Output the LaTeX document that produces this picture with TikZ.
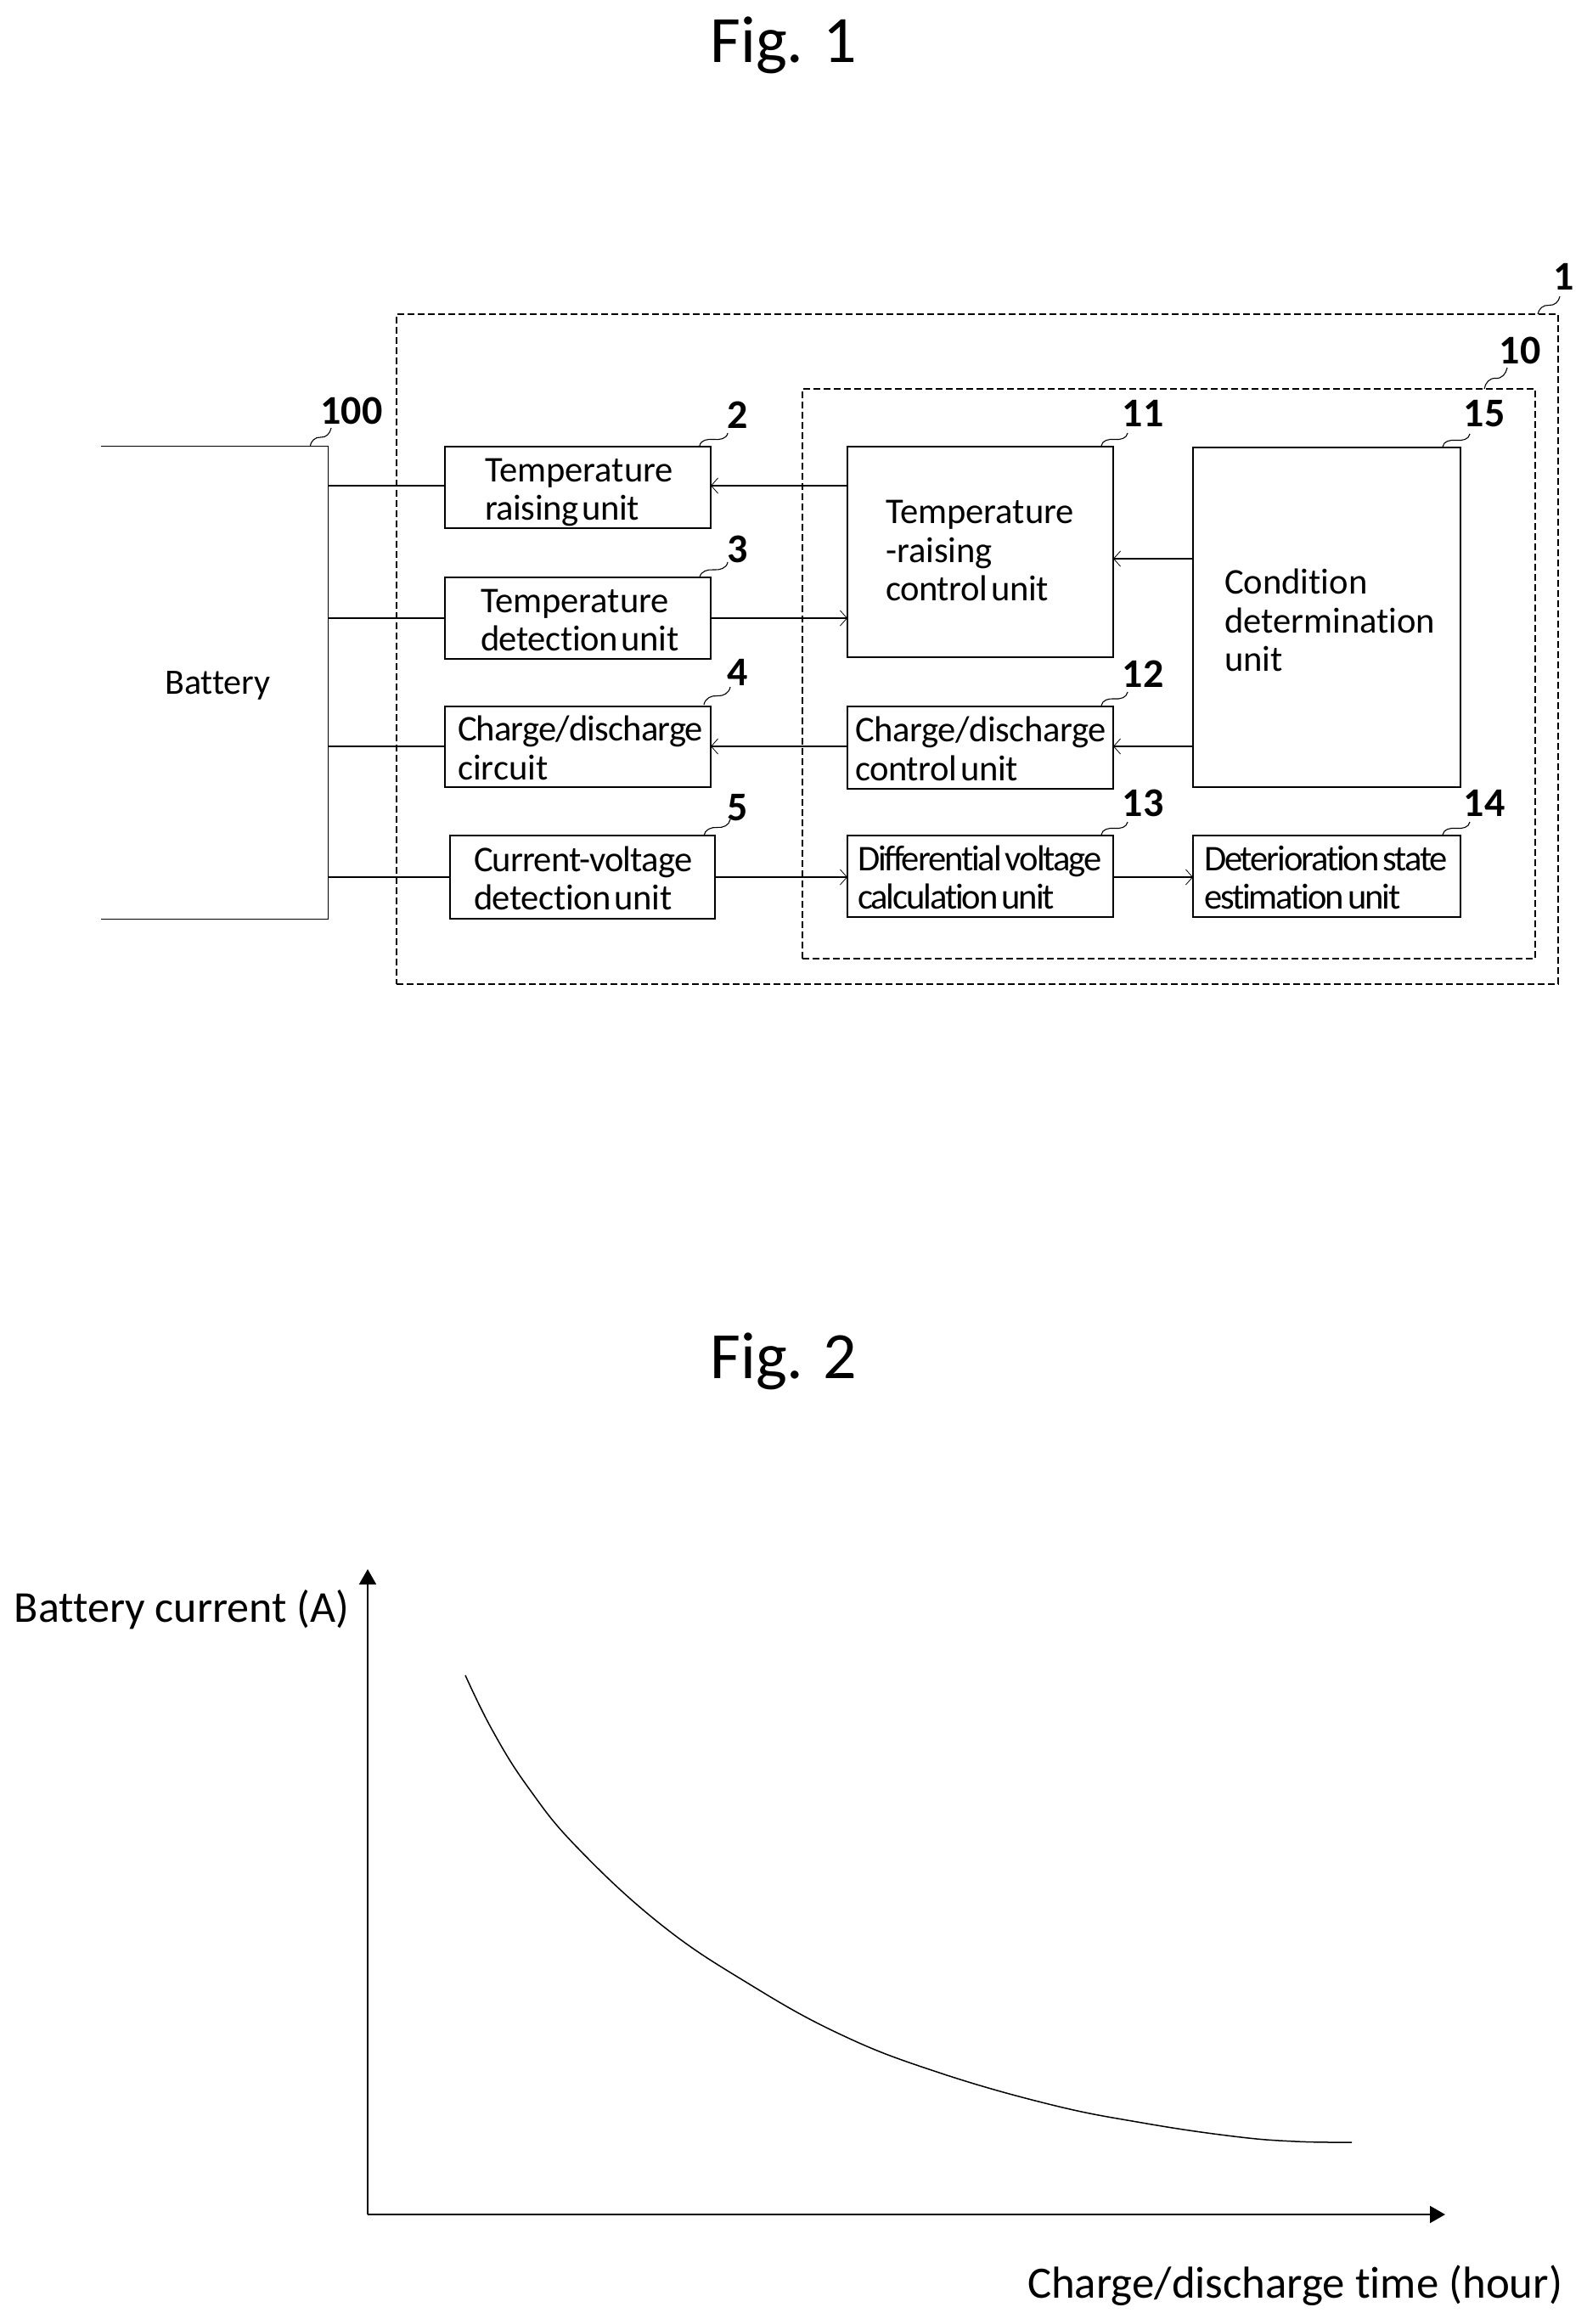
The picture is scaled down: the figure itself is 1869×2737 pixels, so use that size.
\documentclass[tikz,border=0pt]{standalone}
\usepackage{fontspec}
\setmainfont{Carlito}[Ligatures=NoCommon]
\newfontfamily\tzA{Carlito}[Ligatures=NoCommon,LetterSpace=-5]
\newfontfamily\tzB{Carlito}[Ligatures=NoCommon,LetterSpace=-2]
\newfontfamily\tzC{Carlito}[Ligatures=NoCommon,LetterSpace=-1]
\newcommand\hs{\hspace{2pt}}
\usetikzlibrary{arrows.meta,calc}
\tikzset{
  px/.style={x=0.5pt,y=-0.5pt},
  ubox/.style={draw=black,line width=0.6pt,inner sep=0pt,outer sep=0pt,align=left,font=\fontsize{21.3}{22.6}\selectfont},
  plainlabel/.style={inner sep=0pt,outer sep=0pt,anchor=west},
  numlabel/.style={inner sep=0pt,outer sep=0pt,font=\fontsize{24}{26}\selectfont\bfseries},
  dashbox/.style={draw=black,line width=0.6pt,dash pattern=on 3.8pt off 2.2pt,inner sep=0pt,outer sep=0pt},
  wire/.style={draw=black,line width=0.6pt},
  heavy/.style={line width=0.9pt},
  flow/.style={wire,-{Straight Barb[length=4pt,width=9pt,line width=0.4pt]}},
  squig/.style={draw=black,line width=0.55pt},
  axis/.style={draw=black,line width=1pt,-{Triangle[length=9pt,width=10pt]}},
  curveline/.style={draw=black,line width=0.75pt},
}
\newcommand\tshift{3.5pt}
\newcommand\ubox[7]{%
  \pgfmathsetmacro\bw{(#4-#2)*0.5}%
  \pgfmathsetmacro\bh{(#5-#3)*0.5}%
  \pgfmathsetmacro\bl{(#6-#2)*0.5}%
  \node[ubox,text width=\bw pt,minimum height=\bh pt] (#1) at ({(#2+#4)/2},{(#3+#5)/2}) {\hspace*{\bl pt}\raisebox{-\tshift}[\height][\depth]{\begin{tabular}{@{}l@{}}#7\end{tabular}}};}
\newcommand\refmark[7]{%
  \node[numlabel] (#1) at (#2,#3) {#4};
  \coordinate (#1s) at (#5,#6);
  \coordinate (#1e) at ($(#1s)+(#7)$);
  \coordinate (#1m) at ($(#1s)!0.5!(#1e)$);
  \draw[squig] (#1s) to[out=80,in=175] (#1m) to[out=-5,in=-100] (#1e);}
\begin{document}
\begin{tikzpicture}[px]
\fill[white] (0,0) rectangle (1869,2737);
\useasboundingbox (0,0) rectangle (1869,2737);

\node[inner sep=0pt,font=\fontsize{39}{42}\selectfont] (fig1) at (923,53) {Fig. 1};
\node[inner sep=0pt,font=\fontsize{39}{42}\selectfont] (fig2) at (923,1603) {Fig. 2};

% enclosing dashed frames
\node[dashbox,minimum width=684pt,minimum height=394.5pt] (frameA) at ({(467+1835)/2},{(370+1159)/2}) {};
\node[dashbox,minimum width=431.5pt,minimum height=335.5pt] (frameB) at ({(945+1808)/2},{(458+1129)/2}) {};

% battery
\node[inner sep=0pt,minimum width=133.5pt,minimum height=278pt,font=\fontsize{21}{22.6}\selectfont] (bat) at ({(119+386)/2},{(526+1082)/2}) {\hspace*{4pt}\raisebox{-1.5pt}[\height][\depth]{Battery}};
\draw[wire] (bat.north west) -- (bat.north east) -- (bat.south east) -- (bat.south west);

% boxes
\ubox{b2}{524}{526}{837}{622}{571}{Temperature\\\tzC raising\hs unit}
\ubox{b3}{524}{680}{837}{776}{566}{Temperature\\\tzC detection\hs unit}
\ubox{b4}{524}{832}{837}{927}{539}{\tzB Charge/discharge\\circuit}
\ubox{b5}{530}{984}{842}{1082}{558}{\tzB Current-voltage\\\tzC detection\hs unit}
\ubox{b12}{998}{832}{1311}{929}{1007}{\tzC Charge/discharge\\\tzC control\hs unit}
\ubox{b13}{998}{984}{1311}{1080}{1010}{\tzA Differential\hs voltage\\\tzA calculation\hs unit}
\ubox{b14}{1405}{984}{1720}{1080}{1418}{\tzA Deterioration\hs state\\\tzA estimation\hs unit}
\renewcommand\tshift{1.5pt}
\ubox{b11}{998}{526}{1311}{774}{1043}{Temperature\\-raising\\\tzC control\hs unit}
\renewcommand\tshift{4.5pt}
\ubox{b15}{1405}{527}{1720}{927}{1442}{Condition\\determination\\unit}

% connector rows
\coordinate (r1) at (0,572);
\coordinate (r2) at (0,728);
\coordinate (r3) at (0,879);
\coordinate (r4) at (0,1033);
\coordinate (r5) at (0,658);

\draw[wire] (bat.east |- r1) -- (b2.west |- r1);
\draw[wire] (bat.east |- r2) -- (b3.west |- r2);
\draw[wire,heavy] (bat.east |- r3) -- (b4.west |- r3);
\draw[wire] (bat.east |- r4) -- (b5.west |- r4);

\draw[flow] (b11.west |- r1) -- (b2.east |- r1);
\draw[flow] (b3.east |- r2) -- (b11.west |- r2);
\draw[flow,heavy] (b12.west |- r3) -- (b4.east |- r3);
\draw[flow] (b5.east |- r4) -- (b13.west |- r4);
\draw[flow] (b13.east |- r4) -- (b14.west |- r4);
\draw[flow] (b15.west |- r5) -- (b11.east |- r5);
\draw[flow,heavy] (b15.west |- r3) -- (b12.east |- r3);

% reference numerals
\refmark{n1}{1842}{326}{1}{1811}{370}{26,-21}
\refmark{n10}{1790}{413}{10}{1748}{458}{27,-25}
\refmark{n100}{414}{484}{100}{365}{526}{25,-22}
\refmark{n2}{869}{489}{2}{824}{525}{33,-15}
\refmark{n3}{869}{647}{3}{824}{680}{33,-18}
\refmark{n4}{869}{792}{4}{829}{830}{31,-21}
\refmark{n5}{869}{951}{5}{829}{984}{31,-19}
\refmark{n11}{1346}{487}{11}{1297}{525}{31,-15}
\refmark{n12}{1346}{794}{12}{1297}{831}{31,-16}
\refmark{n13}{1346}{946}{13}{1297}{983}{31,-15}
\refmark{n14}{1748}{946}{14}{1699}{983}{32,-15}
\refmark{n15}{1748}{487}{15}{1699}{526}{32,-15}

% Fig. 2
\coordinate (origin) at (433,2608);
\coordinate (ytip) at (433,1848);
\coordinate (xtip) at (1702,2608);
\draw[axis] (origin) -- (ytip);
\draw[axis] (origin) -- (xtip);
\node[plainlabel,font=\fontsize{26}{28}\selectfont] (ylab) at (17,1896) {Battery current (A)};
\node[plainlabel,font=\fontsize{26.4}{28}\selectfont] (xlab) at (1210,2692) {Charge/discharge time (hour)};
\draw[curveline] plot[smooth,tension=0.7] coordinates {(548,1973) (580,2038) (622,2105) (680,2176) (779,2267) (883,2337) (990,2396) (1100,2439) (1235,2478) (1345,2500) (1453,2516) (1526,2522) (1592,2523)};
\end{tikzpicture}
\end{document}
